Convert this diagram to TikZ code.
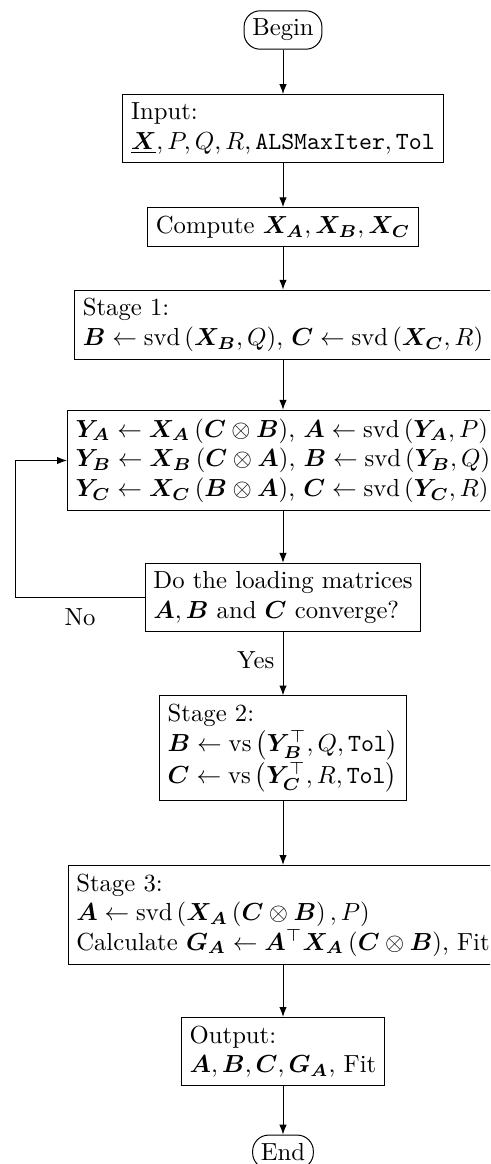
\documentclass[tikz,border=0pt]{standalone}
\usepackage{amsmath,bm}
\usetikzlibrary{arrows.meta}
\newcommand{\mvec}[1]{\bm{#1}}
\begin{document}
\begin{tikzpicture}[x=0.405pt,y=-0.405pt,
  procbox/.style={draw,line width=0.4pt,align=left,inner sep=3.33pt},
  termbox/.style={draw,line width=0.4pt,rounded corners=6.5pt,inner sep=3.33pt},
  flow/.style={-{Latex[length=4pt,width=3pt]},line width=0.4pt}]
\useasboundingbox (0,0) rectangle (490,1164);
\begin{scope}
\clip (0,0) rectangle (490,1164);
\node[termbox] (begin) at (283,30) {Begin};
\node[procbox] (input) at (283,128.5) {Input:\\ $\underline{\mvec{X}}, P, Q, R, \texttt{ALSMaxIter}, \texttt{Tol}$};
\node[procbox] (compute) at (283,227) {Compute $\mvec{X_A}, \mvec{X_B}, \mvec{X_C}$};
\node[procbox] (stage1) at (283,325) {Stage 1:\\ $\mvec{B} \leftarrow \operatorname{svd}\left(\mvec{X_B}, Q\right)$, $\mvec{C} \leftarrow \operatorname{svd}\left(\mvec{X_C}, R\right)$};
\node[procbox] (als) at (283,460.5) {$\mvec{Y_A} \leftarrow \mvec{X_A}\left(\mvec{C}\otimes\mvec{B}\right)$, $\mvec{A} \leftarrow \operatorname{svd}\left(\mvec{Y_A}, P\right)$\\
 $\mvec{Y_B} \leftarrow \mvec{X_B}\left(\mvec{C}\otimes\mvec{A}\right)$, $\mvec{B} \leftarrow \operatorname{svd}\left(\mvec{Y_B}, Q\right)$\\
 $\mvec{Y_C} \leftarrow \mvec{X_C}\left(\mvec{B}\otimes\mvec{A}\right)$, $\mvec{C} \leftarrow \operatorname{svd}\left(\mvec{Y_C}, R\right)$};
\node[procbox] (conv) at (283,597.5) {Do the loading matrices\\ $\mvec{A}, \mvec{B}$ and $\mvec{C}$ converge?};
\node[procbox] (stage2) at (283,748) {Stage 2:\\ $\mvec{B} \leftarrow \operatorname{vs}\left(\mvec{Y_B}^{\top}, Q, \texttt{Tol}\right)$\\ $\mvec{C} \leftarrow \operatorname{vs}\left(\mvec{Y_C}^{\top}, R, \texttt{Tol}\right)$};
\node[procbox] (stage3) at (283,915) {Stage 3:\\ $\mvec{A} \leftarrow \operatorname{svd}\left(\mvec{X_A}\left(\mvec{C}\otimes\mvec{B}\right), P\right)$\\ Calculate $\mvec{G_A} \leftarrow \mvec{A}^{\top}\mvec{X_A}\left(\mvec{C}\otimes\mvec{B}\right)$, Fit};
\node[procbox] (output) at (283,1051.5) {Output:\\ $\mvec{A}, \mvec{B}, \mvec{C}, \mvec{G_A}$, Fit};
\node[termbox] (end) at (283,1152) {End};
\coordinate (lb) at (15,597.5);
\coordinate (lt) at (15,460.5);
\draw[flow] (begin) -- (input);
\draw[flow] (input) -- (compute);
\draw[flow] (compute) -- (stage1);
\draw[flow] (stage1) -- (als);
\draw[flow] (als) -- (conv);
\draw[flow] (conv) -- node[left,pos=0.45] (yes) {Yes} (stage2);
\draw[flow] (stage2) -- (stage3);
\draw[flow] (stage3) -- (output);
\draw[flow] (output) -- (end);
\draw[flow] (conv.west) -- (lb) -- (lt) -- (als.west);
\node (no) at (80,617) {No};
\end{scope}
\end{tikzpicture}
\end{document}
